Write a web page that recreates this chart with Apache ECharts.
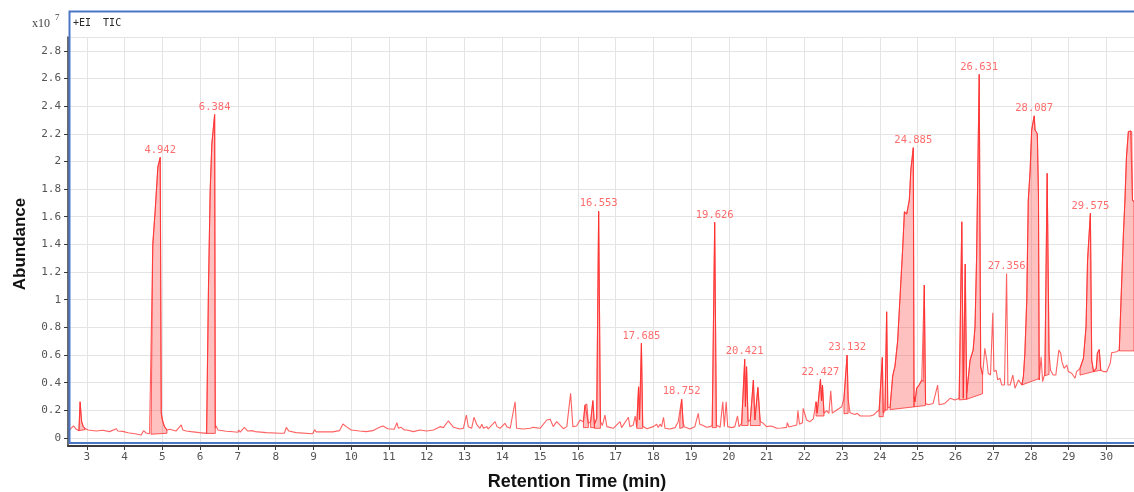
<!DOCTYPE html>
<html>
<head>
<meta charset="utf-8">
<title>+EI TIC</title>
<script src="https://cdn.jsdelivr.net/npm/echarts@6/dist/echarts.min.js"></script>
<style>
  html, body { margin: 0; padding: 0; background: #ffffff; }
  #chart { width: 1134px; height: 492px; }
</style>
</head>
<body>
<div id="chart"></div>
<script>
// Total ion chromatogram, abundance in units of 1e7 counts.
const tic = [
  [2.55,0.060],[2.645,0.087],[2.72,0.063],[2.79,0.053],[2.82,0.262],[2.86,0.120],[2.90,0.085],[2.95,0.068],
  [3.03,0.058],[3.25,0.051],[3.42,0.056],[3.60,0.046],[3.78,0.067],[3.82,0.050],[3.86,0.063],[3.95,0.048],
  [4.09,0.038],[4.31,0.029],[4.44,0.022],[4.50,0.053],[4.57,0.036],[4.66,0.030],[4.70,0.031],[4.745,1.40],
  [4.81,1.65],[4.88,1.96],[4.942,2.03],[4.97,0.18],[5.00,0.13],[5.05,0.085],[5.12,0.058],[5.19,0.063],
  [5.36,0.050],[5.50,0.094],[5.54,0.058],[5.63,0.051],[5.67,0.062],[5.76,0.046],[5.98,0.039],[6.17,0.033],
  [6.22,1.09],[6.265,1.79],[6.31,2.13],[6.384,2.34],[6.40,0.070],[6.423,0.087],[6.47,0.058],[6.69,0.049],
  [6.87,0.045],[7.00,0.042],[7.02,0.058],[7.06,0.042],[7.17,0.077],[7.26,0.050],[7.39,0.053],[7.42,0.060],
  [7.46,0.046],[7.75,0.039],[8.10,0.034],[8.23,0.034],[8.28,0.077],[8.35,0.050],[8.54,0.039],[8.98,0.031],
  [9.03,0.060],[9.07,0.044],[9.34,0.044],[9.51,0.044],[9.69,0.053],[9.78,0.101],[9.87,0.082],[10.00,0.058],
  [10.22,0.051],[10.40,0.046],[10.57,0.053],[10.75,0.077],[10.84,0.087],[10.97,0.067],[11.14,0.063],[11.21,0.111],
  [11.25,0.070],[11.32,0.077],[11.41,0.058],[11.47,0.058],[11.65,0.046],[11.82,0.058],[12.00,0.051],[12.18,0.058],
  [12.35,0.082],[12.44,0.075],[12.57,0.123],[12.62,0.118],[12.71,0.077],[12.88,0.065],[12.97,0.070],[13.05,0.166],
  [13.10,0.082],[13.19,0.070],[13.25,0.150],[13.33,0.094],[13.41,0.070],[13.46,0.099],[13.50,0.070],[13.59,0.082],
  [13.63,0.065],[13.81,0.118],[13.86,0.082],[13.94,0.070],[14.07,0.106],[14.12,0.082],[14.16,0.094],[14.21,0.070],
  [14.34,0.262],[14.38,0.070],[14.56,0.065],[14.74,0.070],[14.82,0.077],[15.00,0.070],[15.18,0.130],[15.27,0.135],
  [15.35,0.082],[15.44,0.118],[15.49,0.106],[15.62,0.067],[15.71,0.082],[15.81,0.323],[15.87,0.082],[15.97,0.087],
  [16.06,0.130],[16.15,0.118],[16.19,0.239],[16.24,0.246],[16.28,0.106],[16.34,0.118],[16.40,0.270],[16.44,0.100],
  [16.50,0.140],[16.553,1.64],[16.60,0.120],[16.65,0.090],[16.72,0.166],[16.77,0.082],[16.94,0.070],[17.12,0.118],
  [17.16,0.075],[17.34,0.150],[17.38,0.082],[17.47,0.094],[17.52,0.159],[17.56,0.082],[17.61,0.370],[17.635,0.130],
  [17.685,0.685],[17.72,0.085],[17.83,0.067],[18.00,0.082],[18.09,0.099],[18.13,0.075],[18.18,0.100],[18.22,0.082],
  [18.27,0.150],[18.31,0.070],[18.44,0.065],[18.58,0.075],[18.62,0.063],[18.66,0.118],[18.70,0.120],[18.752,0.28],
  [18.79,0.110],[18.82,0.082],[18.97,0.065],[19.10,0.082],[19.19,0.178],[19.23,0.099],[19.32,0.090],[19.41,0.077],
  [19.50,0.082],[19.56,0.090],[19.626,1.56],[19.67,0.094],[19.77,0.077],[19.84,0.262],[19.88,0.082],[19.93,0.262],
  [19.97,0.082],[20.08,0.075],[20.16,0.082],[20.23,0.159],[20.27,0.082],[20.34,0.106],[20.421,0.57],[20.44,0.226],
  [20.47,0.516],[20.51,0.118],[20.57,0.130],[20.65,0.419],[20.69,0.130],[20.77,0.366],[20.83,0.120],[20.87,0.130],
  [20.91,0.106],[21.00,0.082],[21.09,0.087],[21.18,0.082],[21.27,0.070],[21.40,0.072],[21.53,0.077],[21.55,0.111],
  [21.59,0.080],[21.80,0.094],[21.83,0.198],[21.87,0.100],[21.95,0.110],[21.97,0.214],[22.02,0.214],[22.06,0.130],
  [22.15,0.118],[22.24,0.140],[22.31,0.262],[22.34,0.180],[22.427,0.424],[22.455,0.270],[22.48,0.383],[22.52,0.178],
  [22.59,0.198],[22.65,0.178],[22.70,0.342],[22.74,0.180],[22.86,0.202],[22.99,0.226],[23.05,0.287],[23.132,0.60],
  [23.16,0.280],[23.21,0.183],[23.34,0.170],[23.40,0.178],[23.48,0.159],[23.74,0.159],[23.83,0.166],[23.92,0.190],
  [23.98,0.198],[24.065,0.583],[24.09,0.178],[24.135,0.200],[24.18,0.913],[24.21,0.220],[24.27,0.220],[24.34,0.450],
  [24.40,0.520],[24.47,0.700],[24.53,1.000],[24.60,1.350],[24.65,1.636],[24.71,1.620],[24.78,1.720],[24.82,1.938],
  [24.885,2.10],[24.905,0.300],[24.93,0.262],[24.975,0.360],[25.04,0.383],[25.11,0.420],[25.15,0.407],[25.176,1.106],
  [25.21,0.250],[25.28,0.240],[25.41,0.250],[25.53,0.383],[25.57,0.240],[25.72,0.250],[25.86,0.287],[25.99,0.275],
  [26.10,0.287],[26.17,1.564],[26.21,0.287],[26.26,1.258],[26.30,0.323],[26.39,0.564],[26.47,0.636],[26.52,0.805],
  [26.56,1.287],[26.631,2.63],[26.67,0.516],[26.72,0.456],[26.78,0.649],[26.83,0.564],[26.87,0.468],[26.93,0.455],
  [26.99,0.906],[27.02,0.480],[27.08,0.490],[27.12,0.420],[27.18,0.432],[27.23,0.383],[27.30,0.383],[27.356,1.19],
  [27.39,0.383],[27.45,0.383],[27.52,0.455],[27.58,0.360],[27.67,0.420],[27.76,0.383],[27.80,0.443],[27.84,0.612],
  [27.89,0.998],[27.93,1.720],[27.98,1.938],[28.02,2.227],[28.087,2.33],[28.11,2.227],[28.17,2.200],[28.20,1.770],
  [28.22,0.420],[28.27,0.588],[28.31,0.407],[28.37,0.468],[28.43,1.914],[28.48,0.612],[28.52,0.490],[28.59,0.455],
  [28.66,0.455],[28.74,0.636],[28.79,0.612],[28.82,0.552],[28.88,0.504],[28.95,0.528],[28.99,0.480],[29.08,0.468],
  [29.17,0.432],[29.21,0.480],[29.30,0.504],[29.39,0.575],[29.46,0.805],[29.50,1.287],[29.575,1.625],[29.61,0.564],
  [29.66,0.480],[29.73,0.504],[29.76,0.612],[29.81,0.640],[29.85,0.490],[29.92,0.480],[30.01,0.480],[30.10,0.540],
  [30.14,0.617],[30.18,0.612],[30.27,0.624],[30.34,0.636],[30.40,1.100],[30.45,1.480],[30.49,1.720],[30.53,2.030],
  [30.58,2.215],[30.64,2.220],[30.67,2.215],[30.69,1.720],[30.73,1.710]
];

// Integrated peak windows: start time, end time, baseline at start, baseline at end.
const integStart = [2.79, 4.70, 6.17, 16.15, 16.34, 16.44, 17.56, 18.70, 19.56, 20.34, 20.57, 22.31, 23.05,
  23.98, 24.135, 24.27, 24.905, 26.10, 26.30, 27.76, 28.37, 29.30, 29.66, 30.34];
const integEnd = [2.95, 5.12, 6.40, 16.28, 16.44, 16.60, 17.72, 18.79, 19.67, 20.51, 20.83, 22.52, 23.16,
  24.09, 24.21, 24.905, 25.21, 26.30, 26.72, 28.22, 28.48, 29.66, 29.85, 30.73];
const baseStart = [0.053, 0.027, 0.033, 0.075, 0.075, 0.070, 0.070, 0.070, 0.075, 0.090, 0.090, 0.159, 0.175,
  0.154, 0.200, 0.205, 0.225, 0.275, 0.280, 0.383, 0.450, 0.455, 0.480, 0.630];
const baseEnd = [0.060, 0.034, 0.033, 0.075, 0.075, 0.070, 0.070, 0.075, 0.075, 0.090, 0.090, 0.159, 0.178,
  0.154, 0.205, 0.225, 0.235, 0.280, 0.320, 0.430, 0.460, 0.480, 0.490, 0.630];

// Retention times of the annotated peaks.
const labelledPeaks = [4.942, 6.384, 16.553, 17.685, 18.752, 19.626, 20.421, 22.427, 23.132,
  24.885, 26.631, 27.356, 28.087, 29.575];

const xRange = [2.5, 30.73];
const yRange = [-0.058, 2.9];

const integWindows = integStart.map((s, i) => [s, integEnd[i], baseStart[i], baseEnd[i]]);
const peakMarks = labelledPeaks.map(t => tic.find(p => Math.abs(p[0] - t) < 1e-9));

const monoFont = '"DejaVu Sans Mono", "Liberation Mono", monospace';
const red = '#ff4848';

const chart = echarts.init(document.getElementById('chart'), null, { renderer: 'canvas' });

chart.setOption({
  animation: false,
  backgroundColor: '#ffffff',
  grid: { left: 68, right: 0, top: 37, bottom: 46, containLabel: false },
  xAxis: {
    type: 'value',
    min: xRange[0],
    max: xRange[1],
    splitNumber: 28,
    minInterval: 1,
    maxInterval: 1,
    axisLine: { show: true, onZero: false, lineStyle: { color: '#3a3a3a', width: 2 } },
    axisTick: { show: true, length: 4, lineStyle: { color: '#3a3a3a' } },
    axisLabel: {
      show: true, margin: 6, color: '#555', fontFamily: monoFont, fontSize: 11,
      showMinLabel: false, showMaxLabel: false,
      formatter: v => (Math.abs(v - Math.round(v)) < 1e-6 ? String(Math.round(v)) : '')
    },
    splitLine: { show: true, lineStyle: { color: '#e4e4e4', width: 1 } }
  },
  yAxis: {
    type: 'value',
    min: yRange[0],
    max: yRange[1],
    minInterval: 0.2,
    maxInterval: 0.2,
    splitNumber: 14,
    axisLine: { show: true, onZero: false, lineStyle: { color: '#3a3a3a', width: 1.5 } },
    axisTick: { show: true, length: 4, lineStyle: { color: '#3a3a3a' } },
    axisLabel: {
      show: true, margin: 7, color: '#555', fontFamily: monoFont, fontSize: 11,
      showMinLabel: false, showMaxLabel: false,
      formatter: v => (v < -1e-6 || v > 2.85 ? '' : String(Math.round(v * 10) / 10))
    },
    splitLine: { show: true, lineStyle: { color: '#e4e4e4', width: 1 } }
  },
  series: [
    {
      // shaded integration areas between each peak and its baseline
      type: 'custom',
      clip: true,
      z: 2,
      data: integWindows,
      encode: { x: [0, 1], y: [2, 3] },
      renderItem: (params, api) => {
        const s = api.value(0), e = api.value(1);
        const pts = tic.filter(p => p[0] >= s - 1e-9 && p[0] <= e + 1e-9).map(p => api.coord(p));
        pts.push(api.coord([e, api.value(3)]));
        pts.push(api.coord([s, api.value(2)]));
        return {
          type: 'polygon',
          shape: { points: pts },
          style: { fill: 'rgba(255,70,70,0.34)', stroke: 'rgba(255,30,30,0.7)', lineWidth: 1 }
        };
      }
    },
    {
      type: 'line',
      z: 3,
      data: tic,
      showSymbol: false,
      symbol: 'none',
      lineStyle: { color: 'rgba(255,45,45,0.75)', width: 1.1 },
      emphasis: { disabled: true }
    },
    {
      // retention-time annotations above the main peaks
      type: 'scatter',
      z: 4,
      data: peakMarks,
      symbolSize: 0,
      label: {
        show: true,
        position: 'top',
        distance: 2,
        color: red,
        fontFamily: monoFont,
        fontSize: 10.5,
        formatter: p => p.value[0].toFixed(3)
      }
    }
  ],
  graphic: [
    {
      type: 'rect',
      z: 10,
      silent: true,
      shape: { x: 69.5, y: 11.5, width: 1080, height: 431.5 },
      style: { fill: 'none', stroke: '#4a76c6', lineWidth: 2 }
    },
    {
      type: 'text', z: 10, left: 73, top: 18,
      style: { text: '+EI  TIC', fill: '#2a2a2a', font: '10px ' + monoFont }
    },
    {
      type: 'text', z: 10, left: 32, top: 18,
      style: { text: 'x10', fill: '#444', font: '12px "Liberation Serif", serif' }
    },
    {
      type: 'text', z: 10, left: 55, top: 13,
      style: { text: '7', fill: '#444', font: '9px "Liberation Serif", serif' }
    },
    {
      type: 'text', z: 10, x: 20, y: 244, rotation: Math.PI / 2,
      style: {
        text: 'Abundance', fill: '#111', font: 'bold 17px "Liberation Sans", Arial, sans-serif',
        align: 'center', verticalAlign: 'middle'
      }
    },
    {
      type: 'text', z: 10, x: 577, y: 482,
      style: {
        text: 'Retention Time (min)', fill: '#111', font: 'bold 18px "Liberation Sans", Arial, sans-serif',
        align: 'center', verticalAlign: 'middle'
      }
    }
  ]
});
</script>
</body>
</html>
